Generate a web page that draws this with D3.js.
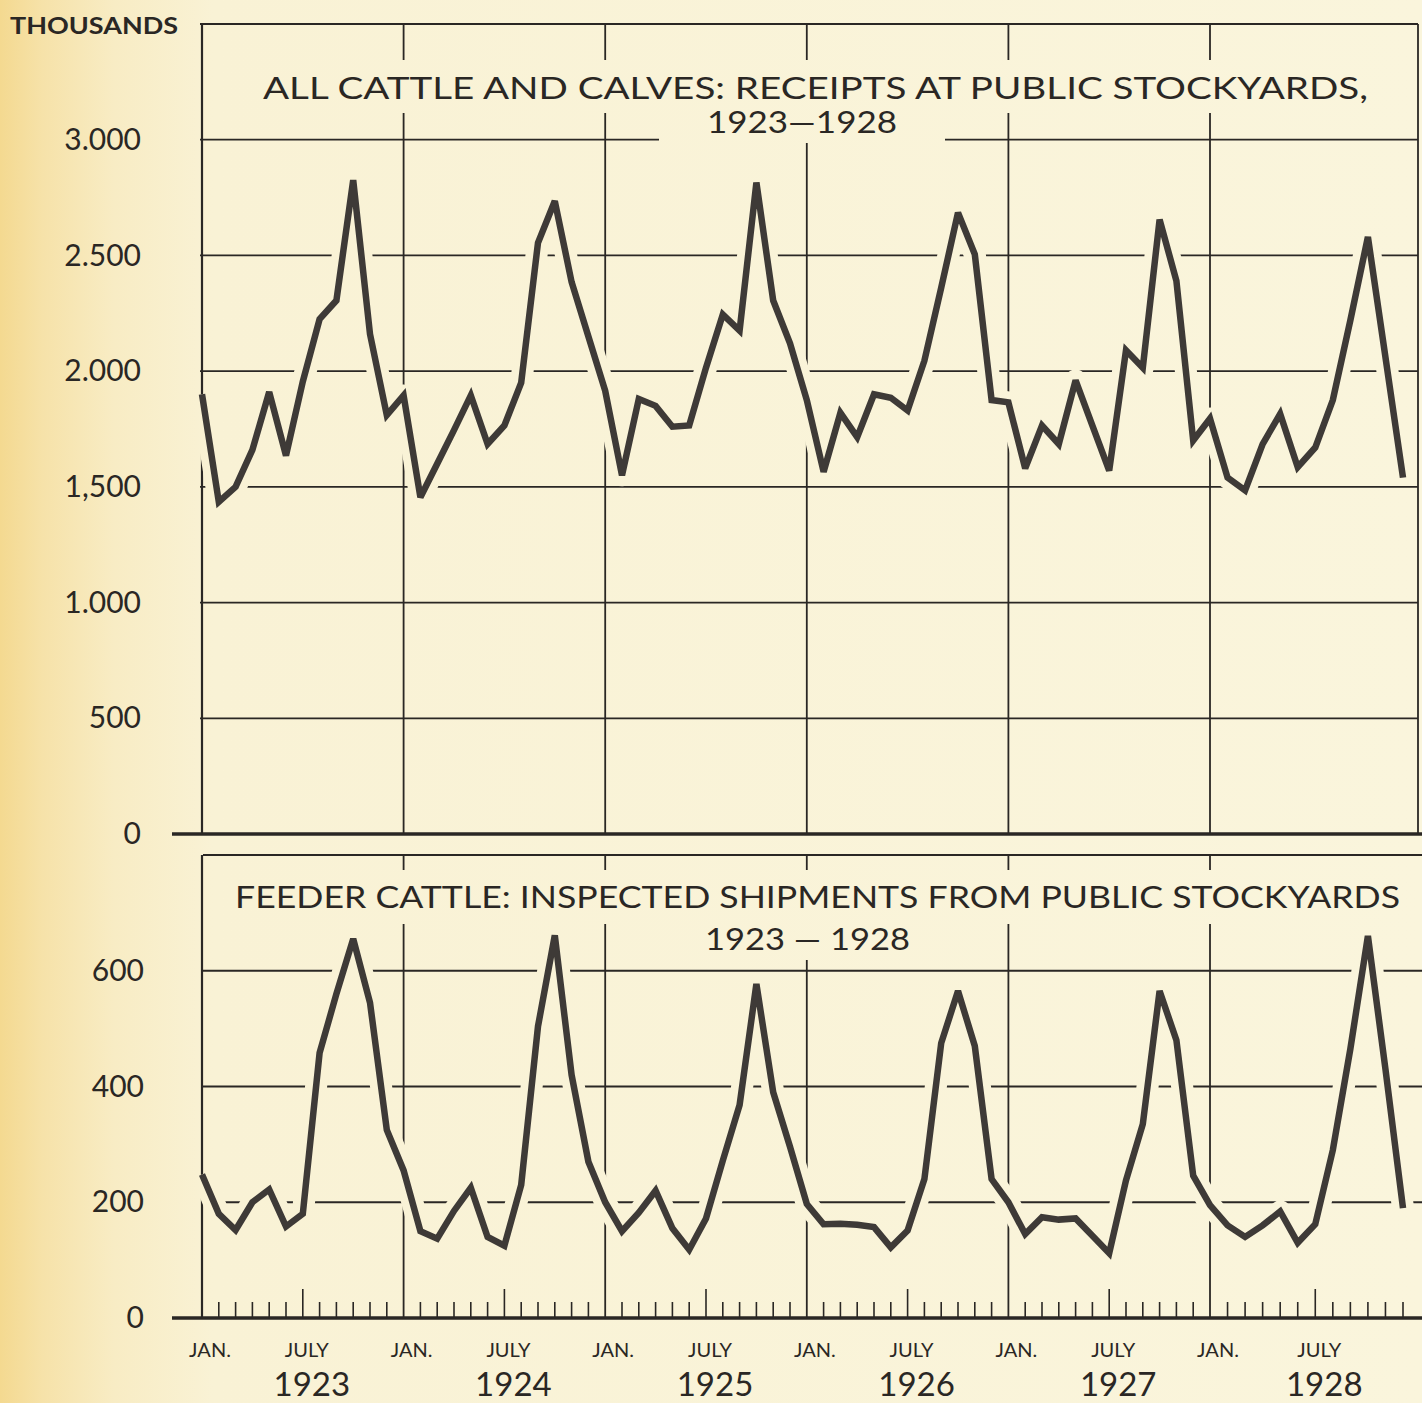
<!DOCTYPE html>
<html>
<head>
<meta charset="utf-8">
<script src="https://cdn.jsdelivr.net/npm/d3@7"></script>
<style>
  html, body { margin: 0; padding: 0; background: #f8f2d6; }
  svg { display: block; }
  text { font-family: "Lato", "Open Sans", sans-serif; fill: #2a2724; }
</style>
</head>
<body>
<script>
// monthly values, Jan 1923 .. Dec 1928 (thousands)
const years = [1923, 1924, 1925, 1926, 1927, 1928];
const receipts = [
  1900, 1435, 1500, 1660, 1910, 1635, 1955, 2225, 2305, 2825, 2160, 1810,
  1895, 1455, 1600, 1745, 1895, 1685, 1765, 1950, 2555, 2735, 2385, 2150,
  1915, 1550, 1880, 1850, 1760, 1765, 2015, 2245, 2175, 2815, 2305, 2120,
  1875, 1565, 1820, 1715, 1900, 1885, 1830, 2045, 2360, 2685, 2505, 1875,
  1865, 1580, 1765, 1685, 1960, 1765, 1570, 2090, 2015, 2655, 2390, 1700,
  1795, 1540, 1485, 1685, 1815, 1585, 1670, 1875, 2220, 2580, 2060, 1540
];
const feeders = [
  248, 180, 152, 200, 222, 158, 180, 458, 560, 655, 545, 325,
  255, 150, 137, 185, 225, 140, 125, 230, 504, 661, 420, 270,
  200, 150, 182, 220, 155, 118, 172, 272, 368, 577, 390, 296,
  197, 162, 163, 161, 157, 122, 151, 240, 475, 565, 470, 240,
  200, 145, 174, 170, 172, 142, 112, 238, 335, 565, 480, 246,
  195, 160, 140, 160, 184, 130, 162, 290, 465, 660, 430, 190
];
const receiptTicks = [0, 500, 1000, 1500, 2000, 2500, 3000];
const receiptTickLabels = ["0", "500", "1.000", "1,500", "2.000", "2.500", "3.000"];
const feederTicks = [0, 200, 400, 600];
const feederTickLabels = ["0", "200", "400", "600"];
const monthNames = ["JAN.", "JULY"];
const unitLabel = "THOUSANDS";
const topTitle = ["ALL CATTLE AND CALVES: RECEIPTS AT PUBLIC STOCKYARDS,", "1923\u20141928"];
const bottomTitle = ["FEEDER CATTLE: INSPECTED SHIPMENTS FROM PUBLIC STOCKYARDS", "1923 \u2014 1928"];

const width = 1422;
const height = 1403;
const ink = "#2a2724";
const lineInk = "#3e3a37";

const x = d3.scaleLinear().domain([0, 60, 71]).range([202, 1210, 1403]);
const yTop = d3.scaleLinear().domain([0, 3500]).range([834, 24]);
const yBot = d3.scaleLinear().domain([0, 800]).range([1318, 855]);

const svg = d3.select("body").append("svg")
    .attr("width", width)
    .attr("height", height);

const grad = svg.append("defs").append("linearGradient")
    .attr("id", "paper")
    .attr("gradientUnits", "userSpaceOnUse")
    .attr("x1", 0).attr("x2", width).attr("y1", 0).attr("y2", 0);
grad.selectAll("stop")
  .data([[0, "#f4d990"], [0.03, "#f6e2a9"], [0.08, "#f8ecc4"], [0.15, "#f9f2d5"], [1, "#faf5dc"]])
  .join("stop")
    .attr("offset", d => d[0])
    .attr("stop-color", d => d[1]);

svg.append("rect")
    .attr("width", width)
    .attr("height", height)
    .attr("fill", "url(#paper)");

const months = d3.range(72);
const jans = months.filter(m => m % 12 === 0);

function panel(y, values, ticks, tickLabels, left, right, titles, titleBoxes) {
  const g = svg.append("g");
  const [y0, y1] = y.range();

  // grid
  g.append("g")
    .selectAll("line")
    .data(ticks.slice(1).concat([y.domain()[1]]))
    .join("line")
      .attr("x1", left).attr("x2", right)
      .attr("y1", d => y(d)).attr("y2", d => y(d))
      .attr("stroke", ink)
      .attr("stroke-width", 1.8);

  g.append("g")
    .selectAll("line")
    .data(jans)
    .join("line")
      .attr("x1", d => x(d)).attr("x2", d => x(d))
      .attr("y1", y0).attr("y2", y1)
      .attr("stroke", ink)
      .attr("stroke-width", d => d === 0 ? 2.2 : 1.8);

  // breaks in the grid behind the titles
  const tg = g.append("g");
  titleBoxes.forEach(b => {
    tg.append("rect")
        .attr("x", b.x - b.px)
        .attr("y", b.y - b.top)
        .attr("width", b.len + 2 * b.px)
        .attr("height", b.top + b.bottom)
        .attr("fill", "url(#paper)");
  });

  const line = d3.line()
      .x((d, i) => x(i))
      .y(d => y(d));

  g.append("path")
      .datum(values)
      .attr("fill", "none")
      .attr("stroke", "url(#paper)")
      .attr("stroke-width", 22)
      .attr("stroke-linejoin", "round")
      .attr("d", line);

  g.append("path")
      .datum(values)
      .attr("fill", "none")
      .attr("stroke", lineInk)
      .attr("stroke-width", 6.5)
      .attr("stroke-linejoin", "miter")
      .attr("stroke-miterlimit", 3)
      .attr("d", line);

  titles.forEach((t, i) => {
    const b = titleBoxes[i];
    g.append("text")
        .attr("x", b.x)
        .attr("y", b.y)
        .attr("font-size", 30)
        .attr("textLength", b.len)
        .attr("lengthAdjust", "spacingAndGlyphs")
        .text(t);
  });

  // value axis
  const axis = g.append("g")
      .attr("transform", `translate(${left},0)`)
      .call(d3.axisLeft(y)
        .tickValues(ticks)
        .tickFormat((d, i) => tickLabels[i])
        .tickSize(0)
        .tickPadding(59));
  axis.select(".domain").remove();
  axis.selectAll("text")
      .attr("font-size", 30)
      .attr("font-family", "Lato, 'Open Sans', sans-serif")
      .attr("fill", ink);

  // zero line
  g.append("line")
      .attr("x1", 172).attr("x2", width)
      .attr("y1", y(0)).attr("y2", y(0))
      .attr("stroke", ink)
      .attr("stroke-width", 3.5);
  return g;
}

panel(yTop, receipts, receiptTicks, receiptTickLabels, 200, 1418, topTitle, [
  {x: 263, y: 99, len: 1105, px: 2, top: 39, bottom: 14},
  {x: 707, y: 133, len: 190, px: 48, top: 31, bottom: 10}
]);
// right frame of the upper chart
svg.append("line")
    .attr("x1", 1418).attr("x2", 1418)
    .attr("y1", yTop(3500)).attr("y2", yTop(0))
    .attr("stroke", ink)
    .attr("stroke-width", 1.8);

panel(yBot, feeders, feederTicks, feederTickLabels, 203, width, bottomTitle, [
  {x: 235, y: 908, len: 1165, px: 4, top: 38, bottom: 16},
  {x: 705, y: 950, len: 205, px: 14, top: 27, bottom: 10}
]);

svg.append("text")
    .attr("x", 10)
    .attr("y", 34)
    .attr("font-size", 23)
    .attr("font-weight", 700)
    .attr("textLength", 168)
    .attr("lengthAdjust", "spacingAndGlyphs")
    .text(unitLabel);

// month ticks along the bottom
svg.append("g")
  .selectAll("line")
  .data(months.filter(m => m % 12 !== 0))
  .join("line")
    .attr("x1", d => x(d)).attr("x2", d => x(d))
    .attr("y1", yBot(0))
    .attr("y2", d => yBot(0) - (d % 12 === 6 ? 29 : 16))
    .attr("stroke", ink)
    .attr("stroke-width", 1.6);

const labels = svg.append("g").attr("text-anchor", "middle");
labels.selectAll("text.jan")
  .data(years)
  .join("text")
    .attr("class", "jan")
    .attr("x", (d, i) => x(i * 12) + 8)
    .attr("y", 1357)
    .attr("font-size", 20)
    .text(monthNames[0]);
labels.selectAll("text.july")
  .data(years)
  .join("text")
    .attr("class", "july")
    .attr("x", (d, i) => x(i * 12 + 6) + 4)
    .attr("y", 1357)
    .attr("font-size", 20)
    .text(monthNames[1]);
labels.selectAll("text.year")
  .data(years)
  .join("text")
    .attr("class", "year")
    .attr("x", (d, i) => x(i * 12 + 6) + 9)
    .attr("y", 1396)
    .attr("font-size", 33)
    .text(d => d);
</script>
</body>
</html>
